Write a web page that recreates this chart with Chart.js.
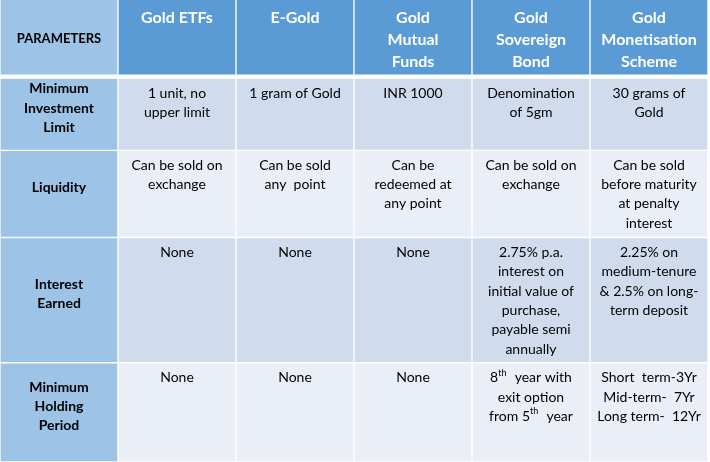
<!DOCTYPE html>
<html>
<head>
<meta charset="utf-8">
<script src="https://cdn.jsdelivr.net/npm/chart.js@4"></script>
<style>
  body { margin: 0; background: #fff; }
  #wrap { width: 708px; height: 462px; }
</style>
</head>
<body>
<div id="wrap"><canvas id="tbl"></canvas></div>
<script>
// columns of the table
const columns = ['PARAMETERS', 'Gold ETFs', 'E-Gold', 'Gold Mutual Funds', 'Gold Sovereign Bond', 'Gold Monetisation Scheme']
const headerLines = [
  ['PARAMETERS'],
  ['Gold ETFs'],
  ['E-Gold'],
  ['Gold', 'Mutual', 'Funds'],
  ['Gold', 'Sovereign', 'Bond'],
  ['Gold', 'Monetisation', 'Scheme']
]
// row boundaries on the y axis (row 0 = header)
const rowEdges = [0, 78, 150, 237, 362, 461]
const rowLabels = [
  ['Minimum', 'Investment', 'Limit'],
  ['Liquidity'],
  ['Interest', 'Earned'],
  ['Minimum', 'Holding', 'Period']
]
const etfs = [['1 unit, no', 'upper limit'], ['Can be sold on', 'exchange'], ['None'], ['None']]
const egold = [['1 gram of Gold'], ['Can be sold', 'any  point'], ['None'], ['None']]
const mutual = [['INR 1000'], ['Can be', 'redeemed at', 'any point'], ['None'], ['None']]
const sovereign = [['Denomination', 'of 5gm'], ['Can be sold on', 'exchange'],
  ['2.75% p.a.', 'interest on', 'initial value of', 'purchase,', 'payable semi', 'annually'],
  ['8^th year with', 'exit option', 'from 5^th year']]
const monetisation = [['30 grams of', 'Gold'], ['Can be sold', 'before maturity', 'at penalty', 'interest'],
  ['2.25% on', 'medium-tenure', '& 2.5% on long-', 'term deposit'],
  ['Short  term-3Yr', 'Mid-term-  7Yr', 'Long term-  12Yr']]
const bodyCols = [rowLabels, etfs, egold, mutual, sovereign, monetisation]

const headBlue = '#5B9BD5'
const sideBlue = '#9DC3E6'
const oddRow = '#D0DCEE'
const evenRow = '#E9EEF7'

const datasets = []
for (let r = 0; r < rowEdges.length - 1; r++) {
  const colors = columns.map((c, i) => {
    if (r == 0) return i == 0 ? sideBlue : headBlue
    if (i == 0) return sideBlue
    return r % 2 == 1 ? oddRow : evenRow
  })
  datasets.push({
    data: columns.map(() => [rowEdges[r], rowEdges[r + 1]]),
    backgroundColor: colors,
    borderColor: '#fff',
    borderWidth: r == 0 ? { bottom: 4, left: 1, right: 1 } : 1,
    borderSkipped: false,
    categoryPercentage: 1,
    barPercentage: 1,
    grouped: false
  })
}

const FONT = 'Lato, "Open Sans", sans-serif'

function drawLine(ctx, text, x, y) {
  // supports "8^th" superscripts
  const parts = text.split(/\^(\w+)/)
  let widths = parts.map((p, i) => {
    ctx.font = (i % 2 ? '9px ' : ctx._base) + ''
    return ctx.measureText(p).width
  })
  let total = widths.reduce((a, b) => a + b, 0)
  let cx = x - total / 2
  ctx.textAlign = 'left'
  parts.forEach((p, i) => {
    ctx.font = i % 2 ? '9px ' + FONT : ctx._base
    ctx.fillText(p, cx, i % 2 ? y - 5 : y)
    cx += widths[i]
  })
}

const textPlugin = {
  id: 'cellText',
  afterDatasetsDraw(chart) {
    const ctx = chart.ctx
    const yScale = chart.scales.y
    ctx.save()
    ctx.textBaseline = 'middle'
    for (let r = 0; r < rowEdges.length - 1; r++) {
      const meta = chart.getDatasetMeta(r)
      const top = yScale.getPixelForValue(rowEdges[r])
      const bottom = yScale.getPixelForValue(rowEdges[r + 1])
      meta.data.forEach((bar, c) => {
        let lines, base, color, startY
        if (r == 0) {
          lines = headerLines[c]
          base = c == 0 ? 'bold 13px ' + FONT : 'bold 16px ' + FONT
          color = c == 0 ? '#000' : '#fff'
          startY = c == 0 ? (top + bottom) / 2 : top + 18
          var lh = 22
        } else {
          lines = bodyCols[c][r - 1]
          base = c == 0 ? 'bold 14px ' + FONT : '14px ' + FONT
          color = '#000'
          var lh = 19.3
          startY = c == 0 ? (top + bottom) / 2 - (lines.length - 1) * lh / 2 - 6 : top + 15
        }
        ctx._base = base
        ctx.fillStyle = color
        lines.forEach((ln, k) => drawLine(ctx, ln, bar.x, startY + k * lh))
      })
    }
    ctx.restore()
  }
}

new Chart(document.getElementById('tbl'), {
  type: 'bar',
  data: { labels: columns, datasets: datasets },
  options: {
    responsive: true,
    maintainAspectRatio: false,
    animation: false,
    layout: { padding: 0 },
    plugins: { legend: { display: false }, tooltip: { enabled: false } },
    scales: {
      x: { display: false, offset: true },
      y: { display: false, reverse: true, min: 0, max: 461 }
    }
  },
  plugins: [textPlugin]
})
</script>
</body>
</html>
